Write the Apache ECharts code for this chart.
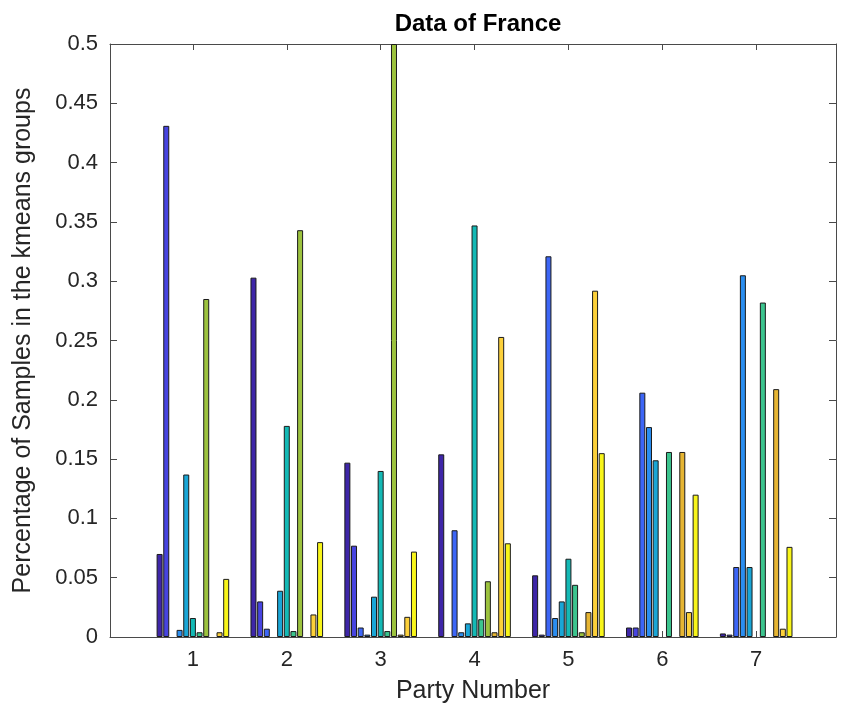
<!DOCTYPE html>
<html>
<head>
<meta charset="utf-8">
<script src="https://cdn.jsdelivr.net/npm/echarts@6/dist/echarts.min.js"></script>
<style>
html,body{margin:0;padding:0;background:#fff;}
#chart{width:842px;height:710px;}
</style>
</head>
<body>
<div id="chart"></div>
<script>
// Party numbers (x categories)
const parties = [1, 2, 3, 4, 5, 6, 7];
// y tick values
const yTicks = [0, 0.05, 0.1, 0.15, 0.2, 0.25, 0.3, 0.35, 0.4, 0.45, 0.5];

// kmeans group shares per party (one array per group / series)
const g1  = [0.070, 0.303, 0.147, 0.154, 0.052, 0.008, 0.003];
const g2  = [0.431, 0.030, 0.077, 0.000, 0.002, 0.008, 0.002];
const g3  = [0.000, 0.007, 0.008, 0.090, 0.321, 0.206, 0.059];
const g4  = [0.006, 0.000, 0.002, 0.004, 0.016, 0.177, 0.305];
const g5  = [0.137, 0.039, 0.034, 0.0115, 0.030, 0.149, 0.059];
const g6  = [0.016, 0.178, 0.140, 0.347, 0.066, 0.000, 0.000];
const g7  = [0.004, 0.005, 0.005, 0.015, 0.044, 0.156, 0.282];
const g8  = [0.285, 0.343, 0.500, 0.047, 0.004, 0.000, 0.000];
const g9  = [0.000, 0.000, 0.002, 0.004, 0.021, 0.156, 0.209];
const g10 = [0.004, 0.019, 0.017, 0.253, 0.292, 0.021, 0.007];
const g11 = [0.049, 0.080, 0.072, 0.079, 0.155, 0.120, 0.076];

const groups = [g1, g2, g3, g4, g5, g6, g7, g8, g9, g10, g11];
const colors = ['#3e26a8', '#4744e0', '#3d66f6', '#2b8ef0', '#1aa6d6', '#14b9b5',
                '#3cc48e', '#9cc23e', '#e6b533', '#fcd03a', '#f8f51a'];

const FONT = "'Liberation Sans', Arial, Helvetica, sans-serif";
const TXT = '#262626';
const AX = '#4a4a4a';
const xMin = 0.117, xMax = 7.85;

const series = groups.map((g, i) => ({
  type: 'bar',
  name: 'G' + (i + 1),
  xAxisIndex: 0,
  yAxisIndex: 0,
  barWidth: 6,
  barGap: '11%',
  data: parties.map((p, j) => [p, g[j] === 0 ? '-' : g[j]]),
  itemStyle: { color: colors[i], borderColor: '#1a1a1a', borderWidth: 1 },
  emphasis: { disabled: true },
  animation: false
}));

const chart = echarts.init(document.getElementById('chart'), null, { renderer: 'canvas' });
chart.setOption({
  animation: false,
  backgroundColor: '#ffffff',
  title: {
    text: 'Data of France',
    left: 473, top: 7, textAlign: 'center',
    textStyle: { fontFamily: FONT, fontSize: 24, fontWeight: 'bold', color: '#000' }
  },
  grid: { left: 110, right: 6, top: 44, bottom: 73, containLabel: false },
  xAxis: [{
    type: 'value', min: xMin, max: xMax, position: 'bottom',
    name: 'Party Number', nameLocation: 'middle', nameGap: 42,
    nameTextStyle: { fontFamily: FONT, fontSize: 25, color: TXT },
    axisLine: { show: true, onZero: false, lineStyle: { color: AX, width: 1 } },
    axisTick: { show: true, inside: true, length: 6, customValues: parties, lineStyle: { color: AX } },
    axisLabel: { show: true, customValues: parties, margin: 12, fontFamily: FONT, fontSize: 22, color: TXT,
                 formatter: v => String(Math.round(v)) },
    splitLine: { show: false }
  }, {
    type: 'value', min: xMin, max: xMax, position: 'top',
    axisLine: { show: true, onZero: false, lineStyle: { color: AX, width: 1 } },
    axisTick: { show: true, inside: true, length: 6, customValues: parties, lineStyle: { color: AX } },
    axisLabel: { show: false },
    splitLine: { show: false }
  }],
  yAxis: [{
    type: 'value', min: 0, max: 0.5, interval: 0.05, position: 'left',
    name: 'Percentage of Samples in the kmeans groups', nameLocation: 'middle', nameGap: 74,
    nameTextStyle: { fontFamily: FONT, fontSize: 25, color: TXT },
    axisLine: { show: true, onZero: false, lineStyle: { color: AX, width: 1 } },
    axisTick: { show: true, inside: true, length: 7, lineStyle: { color: AX } },
    axisLabel: { show: true, margin: 12, fontFamily: FONT, fontSize: 22, color: TXT,
                 customValues: yTicks,
                 formatter: v => (Math.abs(v) < 1e-9 ? '0' : String(+v.toFixed(2))) },
    splitLine: { show: false }
  }, {
    type: 'value', min: 0, max: 0.5, interval: 0.05, position: 'right',
    axisLine: { show: true, onZero: false, lineStyle: { color: AX, width: 1 } },
    axisTick: { show: true, inside: true, length: 7, lineStyle: { color: AX } },
    axisLabel: { show: false },
    splitLine: { show: false }
  }],
  series: series
});
</script>
</body>
</html>
